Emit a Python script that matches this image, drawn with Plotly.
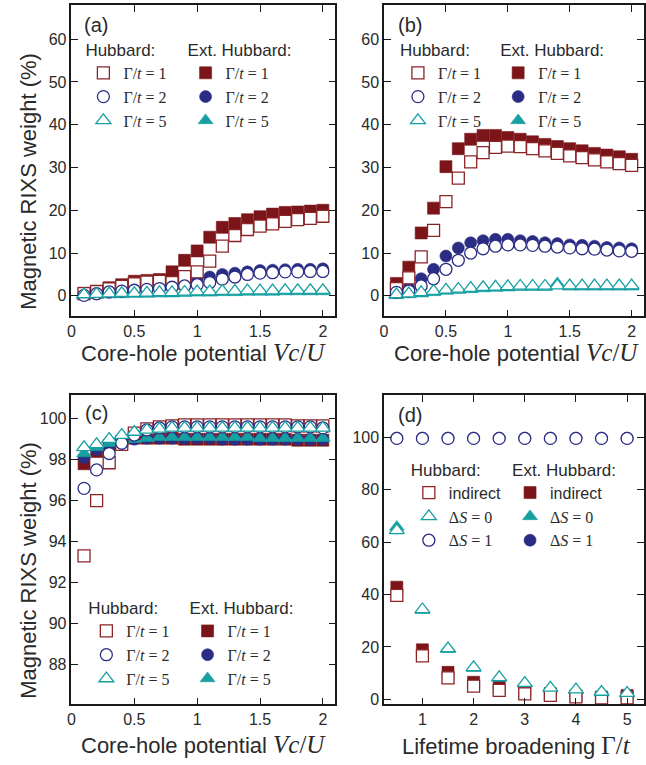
import plotly.graph_objects as go

# ---------------- data ----------------
vc = [0.1, 0.2, 0.3, 0.4, 0.5, 0.6, 0.7, 0.8, 0.9, 1.0,
      1.1, 1.2, 1.3, 1.4, 1.5, 1.6, 1.7, 1.8, 1.9, 2.0]

# panel (a)
a_hub_g1 = [0.5, 1.0, 1.6, 2.2, 2.8, 3.2, 3.4, 3.1, 4.5, 5.6, 8.1, 11.6, 14.1, 15.5, 16.3, 16.8, 17.4, 17.8, 18.1, 18.6]
a_ext_g1 = [0.6, 1.1, 1.9, 2.6, 3.4, 3.6, 3.8, 5.6, 8.3, 10.5, 13.7, 16.0, 16.9, 17.8, 18.5, 19.1, 19.5, 19.6, 19.8, 20.0]
a_hub_g2 = [0.1, 0.5, 0.9, 1.1, 1.3, 1.5, 1.7, 2.0, 2.3, 2.6, 3.1, 3.9, 4.4, 5.0, 5.3, 5.4, 5.6, 5.6, 5.7, 5.7]
a_ext_g2 = [0.2, 0.5, 0.9, 1.2, 1.5, 1.8, 2.0, 2.6, 3.4, 3.8, 4.4, 5.0, 5.3, 5.6, 5.9, 6.0, 6.1, 6.2, 6.2, 6.3]
a_hub_g5 = [0.3, 0.4, 0.5, 0.6, 0.6, 0.7, 0.8, 0.8, 0.9, 1.0, 1.0, 1.1, 1.1, 1.2, 1.2, 1.2, 1.3, 1.3, 1.3, 1.3]
a_ext_g5 = [0.1, 0.2, 0.3, 0.3, 0.4, 0.4, 0.5, 0.5, 0.6, 0.7, 0.7, 0.8, 0.8, 0.9, 0.9, 0.9, 1.0, 1.0, 1.0, 1.0]

# panel (b)
b_hub_g1 = [1.7, 4.2, 9.1, 15.3, 22.0, 27.5, 31.3, 33.5, 34.7, 35.0, 34.9, 34.4, 33.9, 33.3, 32.7, 32.3, 31.8, 31.3, 30.9, 30.5]
b_ext_g1 = [2.9, 6.7, 14.7, 20.5, 30.2, 34.4, 36.6, 37.5, 37.5, 37.0, 36.6, 36.0, 35.4, 34.9, 34.4, 33.9, 33.3, 32.9, 32.5, 31.9]
b_hub_g2 = [0.8, 1.1, 2.3, 4.0, 6.2, 8.3, 10.0, 11.0, 11.6, 11.9, 11.9, 11.8, 11.6, 11.4, 11.2, 11.0, 10.9, 10.7, 10.5, 10.4]
b_ext_g2 = [1.3, 1.9, 4.0, 6.2, 9.3, 11.2, 12.4, 12.9, 13.2, 13.2, 12.9, 12.7, 12.4, 12.2, 11.9, 11.8, 11.6, 11.3, 11.2, 11.0]
b_hub_g5 = [0.3, 0.5, 0.8, 1.1, 1.4, 1.6, 1.8, 2.0, 2.1, 2.2, 2.3, 2.3, 2.3, 2.4, 2.4, 2.4, 2.4, 2.4, 2.4, 2.4]
b_ext_g5 = [0.1, 0.3, 0.5, 0.8, 1.1, 1.3, 1.5, 1.7, 1.8, 1.9, 2.0, 2.0, 2.0, 2.9, 2.1, 2.1, 2.1, 2.1, 2.1, 2.1]

# panel (c)
c_hub_g1 = [93.3, 96.0, 97.85, 98.75, 99.3, 99.5, 99.6, 99.65, 99.7, 99.7, 99.7, 99.7, 99.7, 99.7, 99.7, 99.7, 99.7, 99.65, 99.65, 99.65]
c_ext_g1 = [97.8, 98.4, 98.7, 98.9, 99.05, 99.05, 99.05, 99.05, 99.0, 99.0, 99.0, 99.0, 99.0, 99.0, 99.0, 99.0, 99.0, 98.95, 98.95, 98.95]
c_hub_g2 = [96.6, 97.5, 98.3, 98.8, 99.2, 99.45, 99.55, 99.6, 99.6, 99.6, 99.6, 99.6, 99.6, 99.6, 99.6, 99.6, 99.6, 99.6, 99.6, 99.55]
c_ext_g2 = [98.1, 98.5, 98.75, 98.9, 99.0, 99.05, 99.05, 99.05, 99.05, 99.05, 99.05, 99.0, 99.0, 99.0, 99.0, 99.0, 99.0, 99.0, 99.0, 99.0]
c_hub_g5 = [98.6, 98.75, 99.0, 99.2, 99.35, 99.45, 99.5, 99.55, 99.55, 99.55, 99.55, 99.55, 99.55, 99.55, 99.55, 99.55, 99.55, 99.55, 99.55, 99.55]
c_ext_g5 = [98.3, 98.6, 98.8, 98.95, 99.0, 99.05, 99.1, 99.1, 99.1, 99.1, 99.1, 99.1, 99.1, 99.1, 99.05, 99.05, 99.05, 99.05, 99.05, 99.05]

# panel (d)
gam = [0.5, 1.0, 1.5, 2.0, 2.5, 3.0, 3.5, 4.0, 4.5, 5.0]
d_hub_ind = [39.7, 16.6, 8.2, 5.0, 3.4, 2.1, 1.5, 0.9, 0.5, 0.5]
d_ext_ind = [42.8, 18.9, 10.3, 6.5, 4.7, 3.2, 2.2, 1.4, 0.9, 1.5]
d_hub_s0 = [64.5, 34.3, 19.4, 12.2, 8.4, 6.2, 4.4, 3.7, 2.8, 2.4]
d_ext_s0 = [65.8, 34.0, 19.1, 11.9, 8.1, 5.9, 4.1, 3.4, 2.5, 2.1]
d_hub_s1 = [99.6, 99.6, 99.6, 99.6, 99.6, 99.6, 99.6, 99.6, 99.6, 99.6]
d_ext_s1 = [99.7, 99.7, 99.7, 99.7, 99.7, 99.7, 99.7, 99.7, 99.7, 99.7]

gamma_labels = ["1", "2", "5"]

# ---------------- styling ----------------
RED = "#7b1519"
RED_O = "#8c2326"
NAVY = "#2b2d84"
TEAL = "#17a0a2"
SANS = "Liberation Sans, Arial, sans-serif"
SERIF = "Liberation Serif, Times New Roman, serif"
INK = "#2a2a2a"

fig = go.Figure()

def add(x, y, sym, color, filled, name, xa, ya, leg):
    size = 13 if sym.startswith("triangle") else 12
    if filled:
        mk = dict(symbol=sym, size=size, color=color, line=dict(color=color, width=0.6))
    else:
        mk = dict(symbol=sym, size=size, color="white", line=dict(color=color, width=1.3))
    fig.add_trace(go.Scatter(x=x, y=y, mode="markers", marker=mk, name=name,
                             xaxis=xa, yaxis=ya, legend=leg, showlegend=True))

def gname(g):
    return "Γ/<i>t</i> = " + g

panels = [
    ("x", "y", "legend", "legend2",
     [a_ext_g1, a_ext_g2, a_ext_g5], [a_hub_g1, a_hub_g2, a_hub_g5], vc),
    ("x2", "y2", "legend3", "legend4",
     [b_ext_g1, b_ext_g2, b_ext_g5], [b_hub_g1, b_hub_g2, b_hub_g5], vc),
    ("x3", "y3", "legend5", "legend6",
     [c_ext_g1, c_ext_g2, c_ext_g5], [c_hub_g1, c_hub_g2, c_hub_g5], vc),
]
syms = ["square", "circle", "triangle-up"]
cols = [RED, NAVY, TEAL]
ocols = [RED_O, NAVY, TEAL]
for xa, ya, lh, le, ext, hub, xs in panels:
    for i in range(3):
        add(xs, ext[i], syms[i], cols[i], True, gname(gamma_labels[i]), xa, ya, le)
    for i in range(3):
        add(xs, hub[i], syms[i], ocols[i], False, gname(gamma_labels[i]), xa, ya, lh)

d_names = ["indirect",
           "<span style='font-family:Liberation Serif'>Δ<i>S</i> = 0</span>",
           "<span style='font-family:Liberation Serif'>Δ<i>S</i> = 1</span>"]
d_ext = [d_ext_ind, d_ext_s0, d_ext_s1]
d_hub = [d_hub_ind, d_hub_s0, d_hub_s1]
d_syms = ["square", "triangle-up", "circle"]
d_cols = [RED, TEAL, NAVY]
d_ocols = [RED_O, TEAL, NAVY]
for i in range(3):
    add(gam, d_ext[i], d_syms[i], d_cols[i], True, d_names[i], "x4", "y4", "legend8")
for i in range(3):
    add(gam, d_hub[i], d_syms[i], d_ocols[i], False, d_names[i], "x4", "y4", "legend7")

# ---------------- layout ----------------
W, H = 646, 765
def px(v):
    return v / W
def py(v):
    return 1 - v / H

xdomL = [px(68), px(334)]
xdomR = [px(383), px(645)]
ydomT = [py(318), py(5)]
ydomB = [py(708), py(397)]

axcommon = dict(showline=True, linecolor="#1a1a1a", linewidth=1.5, mirror="ticks",
                ticks="inside", ticklen=7, tickwidth=1.2, tickcolor="#1a1a1a",
                showgrid=False, zeroline=False,
                tickfont=dict(family=SANS, size=16, color=INK))

layout = dict(
    width=W, height=H, margin=dict(l=0, r=0, t=0, b=0),
    paper_bgcolor="white", plot_bgcolor="white",
    xaxis=dict(domain=xdomL, anchor="y", range=[0, 2.1], dtick=0.5, **axcommon),
    yaxis=dict(domain=ydomT, anchor="x", range=[-4.8, 68], dtick=10, **axcommon),
    xaxis2=dict(domain=xdomR, anchor="y2", range=[0, 2.1], dtick=0.5, **axcommon),
    yaxis2=dict(domain=ydomT, anchor="x2", range=[-4.8, 68], dtick=10, **axcommon),
    xaxis3=dict(domain=xdomL, anchor="y3", range=[0, 2.1], dtick=0.5, **axcommon),
    yaxis3=dict(domain=ydomB, anchor="x3", range=[86.06, 101.16], dtick=2, **axcommon),
    xaxis4=dict(domain=xdomR, anchor="y4", range=[0.25, 5.33], tickvals=[1, 2, 3, 4, 5], **axcommon),
    yaxis4=dict(domain=ydomB, anchor="x4", range=[-1.9, 116.2], dtick=20, **axcommon),
    showlegend=True,
)

def leg(x, y, title, fam=SERIF, size=16):
    return dict(x=px(x), y=py(y), xanchor="left", yanchor="top",
                bgcolor="rgba(0,0,0,0)", borderwidth=0,
                font=dict(family=fam, size=size, color=INK),
                title=dict(text=title, side="top", font=dict(family=SANS, size=17, color=INK)),
                itemwidth=30, itemsizing="trace", tracegroupgap=0, traceorder="normal")

layout["legend"] = leg(80, 34, "Hubbard:")
layout["legend2"] = leg(183, 34, "Ext. Hubbard:")
layout["legend3"] = leg(397, 34, "Hubbard:")
layout["legend4"] = leg(498, 34, "Ext. Hubbard:")
layout["legend5"] = leg(83, 595, "Hubbard:")
layout["legend6"] = leg(185, 595, "Ext. Hubbard:")
layout["legend7"] = leg(408, 456, "Hubbard:", SANS, 16)
layout["legend8"] = leg(510, 456, "Ext. Hubbard:", SANS, 16)

fig.update_layout(**layout)

# labels
ann = []
for txt, x, y in [("(a)", 93, 25), ("(b)", 409, 25), ("(c)", 93, 415), ("(d)", 409, 417)]:
    ann.append(dict(text=txt, x=px(x), y=py(y), xref="paper", yref="paper", showarrow=False,
                    xanchor="center", yanchor="middle", font=dict(family=SANS, size=20, color=INK)))

ytitle = "Magnetic RIXS weight (%)"
for y in [182, 573]:
    ann.append(dict(text=ytitle, x=px(24), y=py(y), xref="paper", yref="paper", showarrow=False,
                    textangle=-90, xanchor="center", yanchor="middle",
                    font=dict(family=SANS, size=22, color=INK)))

vc_title = ("Core-hole potential <span style='font-family:Liberation Serif;font-size:25px'>"
            "<i>Vc</i>/<i>U</i></span>")
for x, y in [(201, 354), (517, 354), (201, 748)]:
    ann.append(dict(text=vc_title, x=px(x), y=py(y), xref="paper", yref="paper", showarrow=False,
                    xanchor="center", yanchor="middle", font=dict(family=SANS, size=22, color=INK)))
ann.append(dict(text="Lifetime broadening <span style='font-family:Liberation Serif;font-size:25px'>Γ/<i>t</i></span>",
                x=px(516), y=py(749), xref="paper", yref="paper", showarrow=False,
                xanchor="center", yanchor="middle", font=dict(family=SANS, size=22, color=INK)))
fig.update_layout(annotations=ann)

fig.write_html("out.html", config={"displayModeBar": False},
               post_script="document.body.style.margin='0';document.body.style.padding='0';"
                           "document.body.style.overflow='hidden';"
                           "document.documentElement.style.overflow='hidden';")
